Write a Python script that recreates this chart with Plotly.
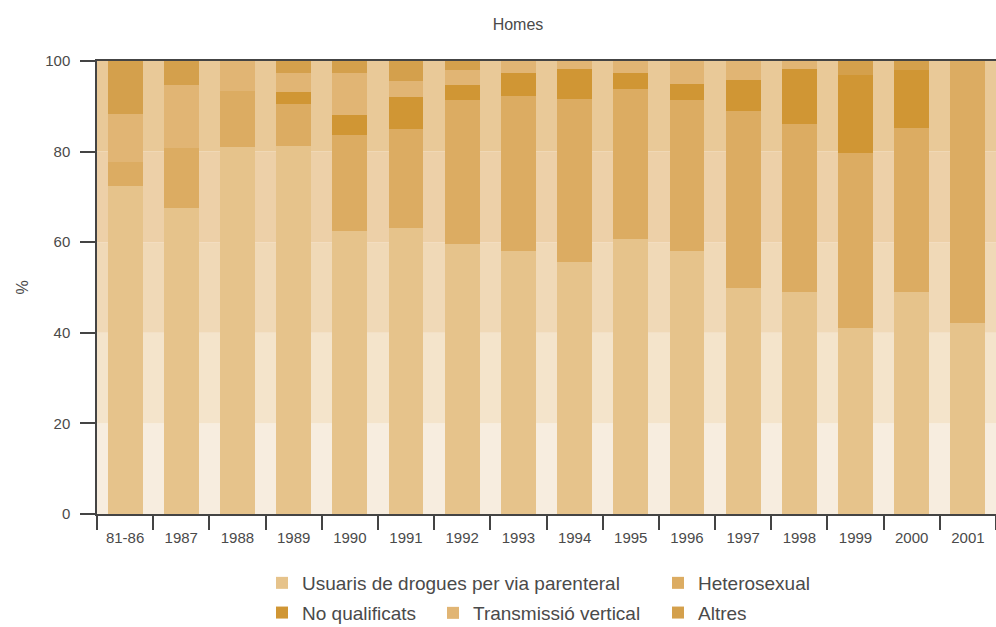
import plotly.graph_objects as go

categories = ["81-86", "1987", "1988", "1989", "1990", "1991", "1992", "1993",
              "1994", "1995", "1996", "1997", "1998", "1999", "2000", "2001"]
usuaris = [72.4, 67.6, 81.1, 81.3, 62.4, 63.1, 59.6, 58.0, 55.6, 60.7, 58.0, 50.0, 49.1, 41.1, 49.1, 42.2]
hetero = [5.4, 13.3, 12.2, 9.1, 21.2, 22.0, 31.7, 34.2, 36.0, 33.1, 33.3, 38.9, 36.9, 38.5, 36.2, 57.8]
noqual = [0, 0, 0, 2.7, 4.4, 6.9, 3.4, 5.1, 6.6, 3.5, 3.6, 6.9, 12.2, 17.3, 12.7, 0]
transv = [10.6, 13.8, 6.7, 4.2, 9.3, 3.6, 3.3, 2.7, 1.8, 2.7, 5.1, 4.2, 1.8, 0, 0, 0]
altres = [11.6, 5.3, 0, 2.7, 2.7, 4.4, 2.0, 0, 0, 0, 0, 0, 0, 3.1, 2.0, 0]

series_names = ["Usuaris de drogues per via parenteral", "Heterosexual", "No qualificats",
                "Transmissió vertical", "Altres"]
series_values = [usuaris, hetero, noqual, transv, altres]
series_colors = ["#e6c38b", "#dcac62", "#d09634", "#e1b574", "#d4a04c"]
series_legend = ["legend", "legend3", "legend", "legend2", "legend3"]

band_edges = [0, 20, 40, 60, 80, 100]
band_colors = ["#f7eddf", "#f4e4cb", "#f0d9b7", "#edd0a8", "#e9c998"]

FONT = "Liberation Sans"
TXT = "#4a4a4a"

fig = go.Figure()
for name, vals, col, lg in zip(series_names, series_values, series_colors, series_legend):
    fig.add_trace(go.Bar(
        x=categories, y=vals, name=name, legend=lg, legendgroup=name,
        marker=dict(color=col, line=dict(width=0)),
    ))

shapes = []
for i, c in enumerate(band_colors):
    shapes.append(dict(type="rect", xref="paper", x0=0, x1=1, yref="y",
                       y0=band_edges[i], y1=band_edges[i + 1],
                       fillcolor=c, line=dict(width=0), layer="below"))

W, H = 996, 627
ML, MR, MT, MB = 97, 0, 61, 113
legend_common = dict(orientation="v", xref="container", yref="container",
                     xanchor="left", yanchor="top", bgcolor="rgba(0,0,0,0)",
                     font=dict(family=FONT, size=19, color=TXT),
                     tracegroupgap=2, itemwidth=30)

fig.update_layout(
    width=W, height=H,
    margin=dict(l=ML, r=MR, t=MT, b=MB, autoexpand=False),
    paper_bgcolor="white", plot_bgcolor="white",
    barmode="stack", bargap=0.38,
    shapes=shapes,
    title=dict(text="Homes", x=518 / W, xref="container", xanchor="center",
               y=1 - 24 / H, yref="container", yanchor="middle",
               font=dict(family=FONT, size=16, color=TXT)),
    font=dict(family=FONT, size=15, color=TXT),
    xaxis=dict(type="category", tickson="boundaries", ticks="outside", ticklen=14,
               tickwidth=1.5, tickcolor="#444", showline=True, linecolor="#444",
               linewidth=1.5, mirror=True, showgrid=False, automargin=False,
               ticklabelstandoff=9,
               tickfont=dict(family=FONT, size=15, color=TXT)),
    yaxis=dict(range=[0, 100], tickvals=[0, 20, 40, 60, 80, 100], ticks="outside",
               ticklen=15, tickwidth=1.5, tickcolor="#444", showline=True,
               linecolor="#444", linewidth=1.5, showgrid=False, zeroline=False,
               automargin=False, ticklabelstandoff=7,
               tickfont=dict(family=FONT, size=15, color=TXT)),
    annotations=[dict(text="%", textangle=-90, xref="paper", yref="paper",
                      x=(22 - ML) / (W - ML - MR), y=0.5, xanchor="center",
                      yanchor="middle", showarrow=False,
                      font=dict(family=FONT, size=16, color=TXT))],
    legend=dict(x=262 / W, y=1 - 564 / H, **legend_common),
    legend2=dict(x=433 / W, y=1 - 594 / H, **legend_common),
    legend3=dict(x=658 / W, y=1 - 564 / H, **legend_common),
)

fig.write_html("out.html", config={"displayModeBar": False},
               post_script="document.body.style.margin='0';")
